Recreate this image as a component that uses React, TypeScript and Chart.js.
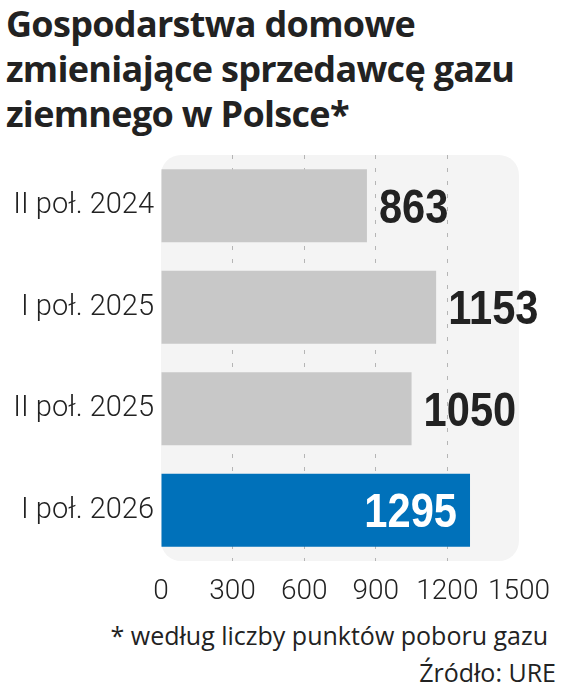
import React, { useEffect, useRef } from 'react';
import { Chart, registerables } from 'chart.js';

Chart.register(...registerables);

const titleLines = ['Gospodarstwa domowe', 'zmieniające sprzedawcę gazu', 'ziemnego w Polsce*'];
const categories = ['II poł. 2024', 'I poł. 2025', 'II poł. 2025', 'I poł. 2026'];
const values = [863, 1153, 1050, 1295];
const highlighted = [false, false, false, true];
const xTicks = [0, 300, 600, 900, 1200, 1500];
const footnote = '* według liczby punktów poboru gazu';
const source = 'Źródło: URE';

const GREY = '#c8c8c8';
const BLUE = '#0071ba';
const PANEL = '#f4f4f4';
const TEXT = '#222222';

const panelPlugin = {
  id: 'panel',
  beforeDraw(chart: any) {
    const { ctx, chartArea } = chart;
    ctx.save();
    ctx.fillStyle = PANEL;
    ctx.beginPath();
    ctx.roundRect(chartArea.left, chartArea.top, chartArea.right - chartArea.left, chartArea.bottom - chartArea.top, 20);
    ctx.fill();
    ctx.restore();
  },
};

const valueLabelPlugin = {
  id: 'valueLabels',
  afterDatasetsDraw(chart: any) {
    const { ctx } = chart;
    const meta = chart.getDatasetMeta(0);
    meta.data.forEach((bar: any, i: number) => {
      const text = String(values[i]);
      ctx.save();
      ctx.font = 'bold 49px "Liberation Sans", Arial, sans-serif';
      ctx.textBaseline = 'alphabetic';
      if (highlighted[i]) {
        ctx.fillStyle = '#ffffff';
        ctx.textAlign = 'right';
        ctx.translate(bar.x - 13, bar.y + 17);
      } else {
        ctx.fillStyle = TEXT;
        ctx.textAlign = 'left';
        ctx.translate(bar.x + 12, bar.y + 17);
      }
      ctx.scale(0.85, 1);
      ctx.fillText(text, 0, 0);
      ctx.restore();
    });
  },
};

export default function App() {
  const canvasRef = useRef<HTMLCanvasElement | null>(null);

  useEffect(() => {
    if (!canvasRef.current) return;
    const chart = new Chart(canvasRef.current, {
      type: 'bar',
      data: {
        labels: categories,
        datasets: [
          {
            data: values,
            backgroundColor: highlighted.map((h) => (h ? BLUE : GREY)),
            borderWidth: 0,
            barPercentage: 0.72,
            categoryPercentage: 1,
          },
        ],
      },
      options: {
        indexAxis: 'y',
        responsive: false,
        animation: false,
        layout: { padding: { left: 0, right: 43, top: 5, bottom: 0 } },
        plugins: {
          legend: { display: false },
          tooltip: { enabled: false },
          title: { display: false },
        },
        scales: {
          x: {
            type: 'linear',
            min: 0,
            max: 1500,
            afterBuildTicks: (scale: any) => {
              scale.ticks = xTicks.map((v) => ({ value: v }));
            },
            afterFit: (scale: any) => {
              scale.height = 49;
            },
            grid: {
              drawTicks: false,
              lineWidth: 1,
              color: (ctx: any) =>
                ctx.tick && (ctx.tick.value === 0 || ctx.tick.value === 1500) ? 'rgba(0,0,0,0)' : '#b5b5b5',
            },
            border: { display: false, dash: [4, 9] },
            ticks: {
              padding: 14,
              color: TEXT,
              font: { family: 'Roboto', size: 28, weight: '300' },
              maxRotation: 0,
              autoSkip: false,
              callback: (v: any) => String(v),
            },
          },
          y: {
            type: 'category',
            afterFit: (scale: any) => {
              scale.width = 161;
              scale.paddingTop = 0;
              scale.paddingBottom = 0;
            },
            grid: { display: false, drawTicks: false },
            border: { display: false },
            ticks: {
              padding: 7,
              color: TEXT,
              font: { family: 'Roboto', size: 29, weight: '300' },
            },
          },
        },
      },
      plugins: [panelPlugin, valueLabelPlugin],
    } as any);
    return () => chart.destroy();
  }, []);

  return (
    <div
      style={{
        position: 'absolute',
        left: 0,
        top: 0,
        width: 564,
        height: 694,
        background: '#ffffff',
        overflow: 'hidden',
      }}
    >
      <div
        style={{
          position: 'absolute',
          left: 6,
          top: 1,
          fontFamily: '"Open Sans", sans-serif',
          fontWeight: 700,
          fontSize: 36,
          lineHeight: '45px',
          color: TEXT,
          whiteSpace: 'nowrap',
          letterSpacing: -0.7,
        }}
      >
        {titleLines.map((l, i) => (
          <div key={i}>{l}</div>
        ))}
      </div>
      <canvas
        ref={canvasRef}
        width={564}
        height={460}
        style={{ position: 'absolute', left: 0, top: 150, width: 564, height: 460 }}
      />
      <div
        style={{
          position: 'absolute',
          right: 564 - 548,
          top: 619,
          fontFamily: '"Open Sans", sans-serif',
          fontSize: 25,
          lineHeight: '32px',
          color: TEXT,
          whiteSpace: 'nowrap',
        }}
      >
        {footnote}
      </div>
      <div
        style={{
          position: 'absolute',
          right: 564 - 556,
          top: 656,
          fontFamily: '"Open Sans", sans-serif',
          fontSize: 25,
          lineHeight: '32px',
          color: TEXT,
          whiteSpace: 'nowrap',
        }}
      >
        {source}
      </div>
    </div>
  );
}
